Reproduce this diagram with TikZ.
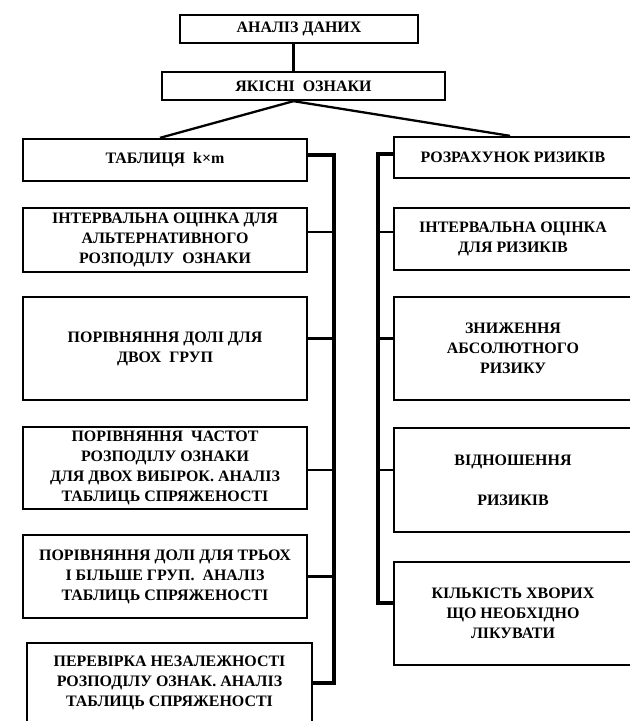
\documentclass[tikz,border=0pt]{standalone}
\usepackage{fontspec}
\setmainfont{Liberation Serif}
\usetikzlibrary{calc}

\begin{document}
\begin{tikzpicture}[x=1bp,y=-1bp,
    box/.style={draw,line width=2.3bp,inner sep=0pt,align=center,
      font=\bfseries\fontsize{16}{20}\selectfont},
    lbox/.style={box,minimum width=284bp},
    rbox/.style={box,minimum width=238bp},
    link/.style={line width=2.3bp},
    bus/.style={line width=4bp}]
                \clip (0,0) rectangle (630,721);

                \node[box,minimum width=238bp,minimum height=28bp] (A) at (299,29) {АНАЛІЗ ДАНИХ};
                \node[box,minimum width=283bp,minimum height=28bp] (B) at (303.5,86) {ЯКІСНІ \ ОЗНАКИ};

                \node[lbox,minimum height=42bp] (L1) at (165,160) {ТАБЛИЦЯ \ k×m};
                \node[lbox,minimum height=64bp] (L2) at (165,240) {ІНТЕРВАЛЬНА ОЦІНКА ДЛЯ\\АЛЬТЕРНАТИВНОГО\\РОЗПОДІЛУ \ ОЗНАКИ};
                \node[lbox,minimum height=103bp] (L3) at (165,348.5) {ПОРІВНЯННЯ ДОЛІ ДЛЯ\\ДВОХ \ ГРУП};
                \node[lbox,minimum height=82bp] (L4) at (165,468) {ПОРІВНЯННЯ \ ЧАСТОТ\\РОЗПОДІЛУ ОЗНАКИ\\ДЛЯ ДВОХ ВИБІРОК. АНАЛІЗ\\ТАБЛИЦЬ СПРЯЖЕНОСТІ};
                \node[lbox,minimum height=83bp] (L5) at (165,576.5) {ПОРІВНЯННЯ ДОЛІ ДЛЯ ТРЬОХ\\І БІЛЬШЕ ГРУП. \ АНАЛІЗ\\ТАБЛИЦЬ СПРЯЖЕНОСТІ};
                \node[lbox,minimum width=285bp,minimum height=80bp] (L6) at (169.5,683) {ПЕРЕВІРКА НЕЗАЛЕЖНОСТІ\\РОЗПОДІЛУ ОЗНАК. АНАЛІЗ\\ТАБЛИЦЬ СПРЯЖЕНОСТІ};

                \node[rbox,minimum height=41bp] (R1) at (513,157.5) {РОЗРАХУНОК РИЗИКІВ};
                \node[rbox,minimum height=62bp] (R2) at (513,239) {ІНТЕРВАЛЬНА ОЦІНКА\\ДЛЯ РИЗИКІВ};
                \node[rbox,minimum height=103bp] (R3) at (513,348.5) {ЗНИЖЕННЯ\\АБСОЛЮТНОГО\\РИЗИКУ};
                \node[rbox,minimum height=104bp] (R4) at (513,480) {ВІДНОШЕННЯ\\[20bp]РИЗИКІВ};
                \node[rbox,minimum height=103bp] (R5) at (513,613.5) {КІЛЬКІСТЬ ХВОРИХ\\ЩО НЕОБХІДНО\\ЛІКУВАТИ};

                \coordinate (hub) at ([xshift=-10bp]B.south);
                \coordinate (busL) at (334,0);
                \coordinate (busR) at (378,0);

                \draw[link] (A.south -| hub) -- (B.north -| hub);
                \draw[link] (hub) -- ([xshift=-5bp]L1.north);
                \draw[link] (hub) -- ([xshift=-3bp]R1.north);

                \draw[bus] ([yshift=5bp]L1.east) -- ([yshift=5bp]L1.east -| busL) -- (L6.east -| busL) -- (L6.east);
                \draw[link] ([yshift=8bp]L2.east) -- ([yshift=8bp]L2.east -| busL);
                \draw[link] ([yshift=10bp]L3.east) -- ([yshift=10bp]L3.east -| busL);
                \draw[link] ([yshift=-2bp]L4.east) -- ([yshift=-2bp]L4.east -| busL);
                \draw[link] (L5.east) -- (L5.east -| busL);

                \draw[bus] ([yshift=4bp]R1.west) -- ([yshift=4bp]R1.west -| busR) -- ([yshift=11bp]R5.west -| busR) -- ([yshift=11bp]R5.west);
                \draw[link] ([yshift=7bp]R2.west) -- ([yshift=7bp]R2.west -| busR);
                \draw[link] ([yshift=10bp]R3.west) -- ([yshift=10bp]R3.west -| busR);
                \draw[link] ([yshift=10bp]R4.west) -- ([yshift=10bp]R4.west -| busR);
            \end{tikzpicture}
\end{document}
